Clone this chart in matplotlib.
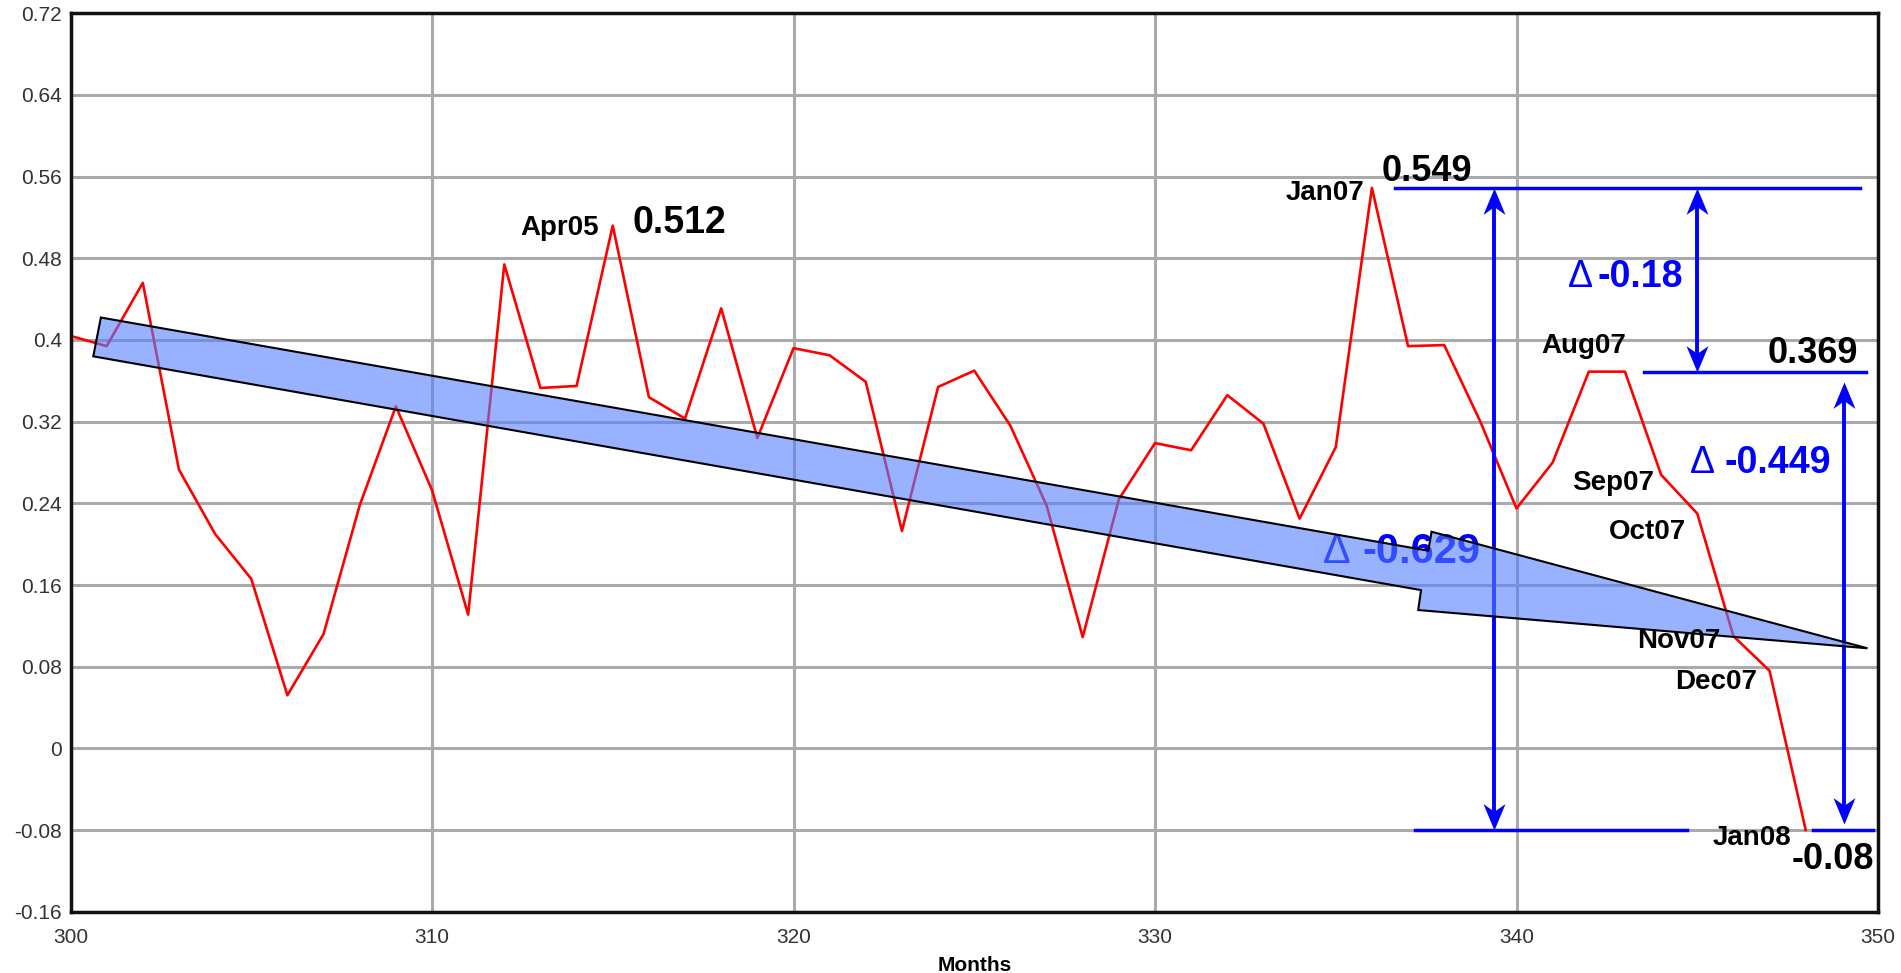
import matplotlib
matplotlib.use("Agg")
import matplotlib.pyplot as plt
import numpy as np
from matplotlib.path import Path
from matplotlib.patches import Polygon

plt.rcParams['font.family'] = ['Liberation Sans', 'DejaVu Sans']

# ---- data ----
months = list(range(300, 349))
values = [0.404, 0.394, 0.456, 0.273, 0.210, 0.166, 0.052, 0.112, 0.238, 0.335,
          0.253, 0.131, 0.474, 0.353, 0.355, 0.512, 0.344, 0.323, 0.431, 0.304,
          0.392, 0.385, 0.359, 0.213, 0.354, 0.370, 0.316, 0.238, 0.109, 0.244,
          0.299, 0.292, 0.346, 0.318, 0.225, 0.295, 0.549, 0.394, 0.395, 0.320,
          0.235, 0.280, 0.369, 0.369, 0.268, 0.230, 0.110, 0.076, -0.080]

y_ticks = [0.72, 0.64, 0.56, 0.48, 0.4, 0.32, 0.24, 0.16, 0.08, 0, -0.08, -0.16]
y_tick_labels = ["0.72", "0.64", "0.56", "0.48", "0.4", "0.32", "0.24", "0.16",
                 "0.08", "0", "-0.08", "-0.16"]
x_ticks = [300, 310, 320, 330, 340, 350]
x_label = "Months"

month_labels = ["Apr05", "Jan07", "Aug07", "Sep07", "Oct07", "Nov07", "Dec07", "Jan08"]
peak_val, jan07_val, aug07_val, jan08_val = 0.512, 0.549, 0.369, -0.08
deltas = ["-0.18", "-0.449", "-0.629"]

# trend arrow outline (annotation shape)
trend_x = [300.84, 337.56, 337.65, 349.71, 337.28, 337.36, 300.63]
trend_y = [0.422, 0.1936, 0.2122, 0.098, 0.1355, 0.155, 0.384]

fig = plt.figure(figsize=(19.01, 9.73), dpi=100)
ax = fig.add_axes([70.5/1901, 1 - 911.7/973, (1878-70.5)/1901, (911.7-13.3)/973])
ax.set_xlim(300, 350)
ax.set_ylim(-0.16, 0.72)
ax.set_xticks(x_ticks)
ax.set_yticks(y_ticks)
ax.set_yticklabels(y_tick_labels)
ax.grid(True, color='#aaaaaa', linewidth=2.2, zorder=0)
ax.set_axisbelow(True)
ax.tick_params(length=0, labelsize=15, colors='#333333')
ax.tick_params(axis='x', pad=12)
ax.tick_params(axis='y', pad=6)
for s in ax.spines.values():
    s.set_linewidth(2.5)
    s.set_color('#111111')
ax.set_xlabel(x_label, fontsize=15, fontweight='bold', labelpad=6)

# red series
ax.plot(months, values, color='#ff0000', linewidth=1.9, zorder=2)

blue = '#0000ff'
ax.plot([336.64, 349.5], [jan07_val, jan07_val], color=blue, lw=2.5, zorder=3)
ax.plot([343.52, 349.68], [aug07_val, aug07_val], color=blue, lw=2.5, zorder=3)
ax.plot([337.19, 344.73], [jan08_val, jan08_val], color=blue, lw=2.5, zorder=3)
ax.plot([348.2, 349.86], [jan08_val, jan08_val], color=blue, lw=2.5, zorder=3)

up_head = Path([(0, 0), (-0.5, -1.2), (0, -0.85), (0.5, -1.2), (0, 0)],
               [Path.MOVETO, Path.LINETO, Path.LINETO, Path.LINETO, Path.CLOSEPOLY])
down_head = Path([(0, 0), (-0.5, 1.2), (0, 0.85), (0.5, 1.2), (0, 0)],
                 [Path.MOVETO, Path.LINETO, Path.LINETO, Path.LINETO, Path.CLOSEPOLY])

def dbl_arrow(x, ytop, ybot):
    ax.plot([x, x], [ytop - 0.01, ybot + 0.01], color=blue, lw=2.8, zorder=3)
    ax.plot([x], [ytop], marker=up_head, markersize=38, color=blue,
            markeredgewidth=0, zorder=3)
    ax.plot([x], [ybot], marker=down_head, markersize=38, color=blue,
            markeredgewidth=0, zorder=3)

dbl_arrow(339.38, jan07_val, jan08_val)
dbl_arrow(344.98, jan07_val, aug07_val)
dbl_arrow(349.06, 0.359, -0.074)

# delta labels (under the trend arrow)
def delta(xd, xn, y, txt, size):
    ax.text(xd, y, "\u0394", fontsize=size, color=blue, ha='left', va='baseline',
            fontweight='normal', zorder=3.5)
    ax.text(xn, y, txt, fontsize=size, color=blue, ha='left', va='baseline',
            fontweight='bold', zorder=3.5)

delta(341.42, 342.25, 0.452, deltas[0], 27)
delta(344.79, 345.76, 0.270, deltas[1], 27)
delta(334.63, 335.73, 0.1813, deltas[2], 30)

# trend arrow (semi-transparent)
poly = Polygon(np.column_stack([trend_x, trend_y]), closed=True,
               facecolor=(85/255, 128/255, 1.0, 0.6), edgecolor='black',
               linewidth=1.5, zorder=4)
ax.add_patch(poly)

# month labels
lab_kw = dict(fontsize=20, fontweight='bold', color='black', va='baseline', zorder=6)
ax.text(314.63, 0.503, month_labels[0], ha='right', **lab_kw)
ax.text(335.78, 0.537, month_labels[1], ha='right', **lab_kw)
ax.text(340.69, 0.387, month_labels[2], ha='left', **lab_kw)
ax.text(341.55, 0.253, month_labels[3], ha='left', **lab_kw)
ax.text(342.55, 0.2055, month_labels[4], ha='left', **lab_kw)
ax.text(343.35, 0.098, month_labels[5], ha='left', **lab_kw)
ax.text(344.4, 0.0583, month_labels[6], ha='left', **lab_kw)
ax.text(347.6, -0.0947, month_labels[7], ha='right', **lab_kw)

# value labels
val_kw = dict(fontweight='bold', color='black', va='baseline', ha='left', zorder=6)
ax.text(315.56, 0.505, f"{peak_val:.3f}", fontsize=27, **val_kw)
ax.text(336.27, 0.5555, f"{jan07_val:.3f}", fontsize=26, **val_kw)
ax.text(346.96, 0.3775, f"{aug07_val:.3f}", fontsize=26, **val_kw)
ax.text(347.62, -0.1185, f"{jan08_val:.2f}", fontsize=26, **val_kw)

fig.savefig("out.png", dpi=100)
